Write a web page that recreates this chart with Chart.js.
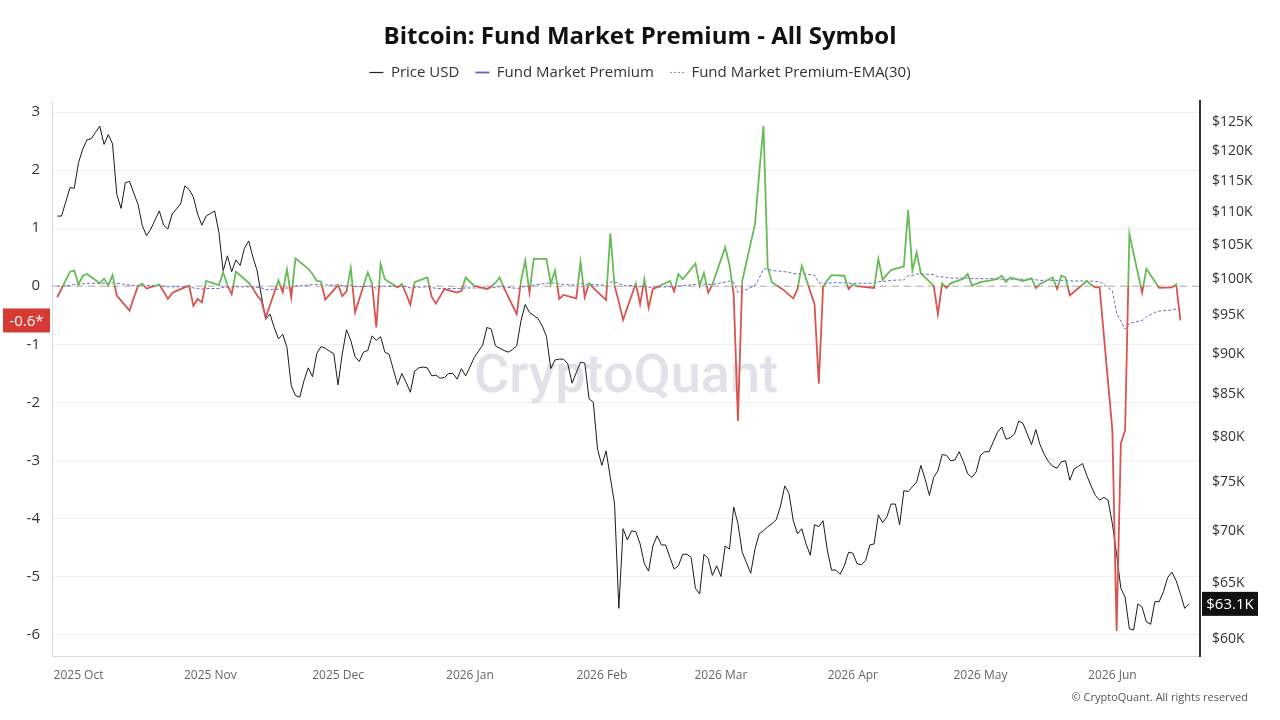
<!DOCTYPE html>
<html>
<head>
<meta charset="utf-8">
<title>Bitcoin: Fund Market Premium - All Symbol</title>
<script src="https://cdn.jsdelivr.net/npm/chart.js@4"></script>
<style>
  html, body { margin: 0; padding: 0; background: #fff; }
  #wrap { width: 1280px; height: 720px; }
</style>
</head>
<body>
<div id="wrap"><canvas id="chart" width="1280" height="720"></canvas></div>
<script>
// x axis is counted in days from 2025-10-01
const seriesStart = '2025-09-26';
const monthLabels = ['2025 Oct', '2025 Nov', '2025 Dec', '2026 Jan', '2026 Feb', '2026 Mar', '2026 Apr', '2026 May', '2026 Jun'];
const premiumTicks = [-6, -5, -4, -3, -2, -1, 0, 1, 2, 3];
const priceTicks = [60, 65, 70, 75, 80, 85, 90, 95, 100, 105, 110, 115, 120, 125];

// daily BTC price, $K (Sep 26 -> Jun 18)
const priceUsd = [
  109.4, 109.4, 111.6, 113.9, 113.8, 118.0, 120.3, 121.9, 122.1, 123.2,
  124.3, 121.1, 122.8, 121.2, 112.8, 110.6, 114.7, 114.9, 113.0, 111.2,
  107.9, 106.4, 107.4, 108.8, 110.2, 108.0, 107.4, 109.7, 110.5, 111.3,
  114.2, 113.6, 112.4, 109.7, 108.0, 109.4, 109.8, 110.2, 106.9, 101.2,
  103.4, 101.1, 102.8, 102.0, 104.5, 105.6, 103.2, 101.2, 97.6, 94.5,
  95.2, 93.4, 91.9, 92.5, 90.8, 86.0, 84.8, 84.6, 86.6, 88.2,
  87.1, 90.0, 90.9, 90.7, 90.3, 90.0, 86.1, 90.0, 93.1, 91.7,
  89.6, 89.0, 90.2, 90.4, 92.3, 91.7, 92.2, 90.2, 89.9, 88.0,
  86.1, 87.5, 86.4, 85.2, 87.8, 88.2, 88.3, 88.2, 87.2, 87.3,
  86.9, 87.0, 87.5, 87.5, 86.8, 88.1, 87.2, 88.3, 89.5, 90.3,
  91.1, 93.4, 93.2, 91.0, 90.7, 90.4, 90.2, 90.5, 91.0, 94.3,
  96.5, 95.4, 95.0, 94.6, 93.6, 92.2, 88.1, 89.2, 89.3, 89.3,
  88.7, 86.3, 87.6, 88.9, 88.8, 84.4, 84.0, 78.6, 76.8, 78.4,
  75.5, 72.7, 62.7, 70.2, 69.1, 70.0, 69.9, 68.7, 66.8, 66.1,
  68.5, 69.5, 68.6, 68.6, 67.4, 66.3, 66.6, 67.7, 67.7, 67.4,
  64.5, 64.0, 67.7, 67.3, 65.7, 66.6, 65.6, 68.5, 68.2, 72.4,
  70.7, 67.9, 66.9, 65.9, 68.2, 69.7, 70.0, 70.4, 70.7, 71.1,
  72.5, 74.6, 73.8, 71.0, 69.7, 70.2, 68.7, 67.6, 70.6, 70.4,
  71.0, 68.1, 66.2, 66.2, 65.8, 66.6, 67.9, 67.8, 66.8, 66.7,
  67.1, 68.6, 68.7, 71.6, 70.8, 71.4, 72.7, 72.7, 70.6, 74.1,
  74.0, 74.5, 75.0, 76.8, 75.3, 73.6, 75.5, 76.2, 78.0, 77.9,
  77.3, 77.4, 78.3, 77.2, 75.9, 75.5, 76.1, 77.9, 78.3, 78.3,
  79.4, 80.5, 81.1, 79.7, 79.9, 80.3, 81.8, 81.5, 80.3, 79.1,
  80.8, 79.1, 78.0, 77.2, 76.7, 76.5, 77.2, 77.3, 75.2, 76.4,
  76.7, 77.0, 75.7, 74.6, 73.6, 73.1, 73.4, 73.1, 70.7, 67.7,
  64.5, 63.7, 60.9, 60.8, 63.1, 62.8, 61.5, 61.3, 63.3, 63.3,
  64.2, 65.5, 66.0, 65.2, 64.0, 62.7, 63.1
];

// fund market premium, one value per weekday starting Fri Sep 26 (rows = Mon..Fri), null = market closed
const premium = [
  -0.19,
  0.25, 0.27, 0.03, 0.18, 0.21,
  0.05, 0.13, 0.01, 0.19, -0.16,
  -0.42, -0.20, 0.01, 0.04, -0.04,
  0.03, -0.09, -0.22, -0.12, -0.08,
  0.01, -0.34, -0.22, -0.28, 0.09,
  0.02, 0.24, 0.02, -0.14, 0.25,
  0.06, -0.04, -0.16, -0.25, -0.54,
  0.10, -0.10, 0.29, -0.19, 0.48,
  0.30, 0.21, 0.09, 0.08, -0.23,
  0.02, -0.17, -0.09, 0.31, -0.45,
  0.24, 0.04, -0.71, 0.38, 0.12,
  -0.02, 0.04, -0.13, -0.32, 0.07,
  0.15, -0.18, -0.30, null, -0.05,
  -0.11, -0.08, 0.15, null, 0.01,
  -0.05, -0.01, 0.06, 0.15, -0.03,
  -0.48, 0.09, 0.44, -0.11, 0.47,
  0.47, 0.04, 0.27, -0.22, -0.15,
  -0.21, 0.42, -0.19, 0.05, -0.03,
  -0.24, 0.91, 0.01, -0.27, -0.58,
  0.05, -0.31, 0.12, -0.37, -0.05,
  null, 0.09, -0.09, 0.21, 0.12,
  0.39, 0.01, 0.23, -0.11, 0.03,
  0.67, 0.37, -0.15, -2.32, 0.09,
  1.07, 1.95, 2.76, 0.32, 0.07,
  -0.08, -0.15, -0.21, -0.05, 0.35,
  -0.31, -1.68, -0.02, 0.10, 0.19,
  0.18, -0.05, 0.03, 0.00, null,
  -0.03, 0.47, 0.11, 0.20, 0.28,
  0.34, 1.31, 0.27, 0.58, 0.22,
  0.01, -0.48, 0.05, -0.03, 0.05,
  0.13, 0.21, 0.01, 0.04, 0.07,
  0.11, 0.13, 0.18, 0.07, 0.15,
  0.09, 0.11, 0.14, -0.03, 0.04,
  0.15, -0.05, 0.18, 0.15, -0.16,
  null, 0.09, 0.03, -0.02, -0.02,
  -2.48, -5.94, -2.71, -2.48, 0.90,
  -0.11, 0.30, 0.19, 0.08, -0.03,
  -0.02, 0.03, -0.59
];

const premiumEma = [
  0.00,
  0.01, 0.03, 0.03, 0.04, 0.05,
  0.05, 0.05, 0.05, 0.06, 0.05,
  0.02, 0.01, 0.01, 0.01, 0.01,
  0.01, 0.00, -0.01, -0.01, -0.01,
  -0.01, -0.03, -0.04, -0.05, -0.04,
  -0.04, -0.02, -0.02, -0.03, -0.01,
  -0.01, -0.01, -0.02, -0.03, -0.06,
  -0.05, -0.05, -0.03, -0.04, 0.00,
  0.02, 0.03, 0.03, 0.03, 0.02,
  0.02, 0.01, 0.00, 0.02, -0.01,
  0.00, 0.00, -0.04, -0.01, 0.00,
  0.00, 0.00, -0.01, -0.03, -0.02,
  -0.01, -0.02, -0.04, null, -0.04,
  -0.04, -0.04, -0.03, null, -0.03,
  -0.03, -0.03, -0.02, -0.01, -0.01,
  -0.04, -0.03, 0.00, -0.01, 0.02,
  0.05, 0.05, 0.06, 0.04, 0.03,
  0.02, 0.05, 0.03, 0.03, 0.03,
  0.01, 0.07, 0.07, 0.05, 0.01,
  0.01, -0.01, 0.00, -0.02, -0.02,
  null, -0.01, -0.02, 0.00, 0.01,
  0.03, 0.03, 0.04, 0.03, 0.03,
  0.07, 0.09, 0.07, -0.11, -0.09,
  0.01, 0.14, 0.30, 0.29, 0.27,
  0.25, 0.24, 0.22, 0.21, 0.22,
  0.19, 0.06, 0.05, 0.05, 0.06,
  0.06, 0.05, 0.05, 0.05, null,
  0.05, 0.08, 0.08, 0.09, 0.10,
  0.11, 0.18, 0.18, 0.21, 0.21,
  0.20, 0.16, 0.16, 0.15, 0.14,
  0.14, 0.14, 0.13, 0.13, 0.13,
  0.13, 0.12, 0.12, 0.12, 0.12,
  0.12, 0.12, 0.12, 0.11, 0.10,
  0.10, 0.10, 0.10, 0.10, 0.09,
  null, 0.09, 0.09, 0.08, 0.08,
  -0.08, -0.47, -0.60, -0.74, -0.64,
  -0.59, -0.53, -0.49, -0.45, -0.43,
  -0.41, -0.39, -0.40
];

const DAY = 86400000;
const origin = Date.UTC(2025, 9, 1);
const firstDay = (Date.parse(seriesStart + 'T00:00:00Z') - origin) / DAY;

const pricePoints = priceUsd.map((v, i) => ({ x: firstDay + i, y: v }));

// weekdays only for the fund data
const tradingDays = [];
for (let d = firstDay; tradingDays.length < premium.length; d++) {
    const wd = new Date(origin + d * DAY).getUTCDay();
    if (wd !== 0 && wd !== 6) tradingDays.push(d);
}
const premiumPoints = premium.map((v, i) => ({ x: tradingDays[i], y: v }));
const emaPoints = premiumEma.map((v, i) => ({ x: tradingDays[i], y: v }));

const monthStarts = monthLabels.map((_, i) => (Date.UTC(2025, 9 + i, 1) - origin) / DAY);

const GREEN = '#66bb55';
const RED = '#d9534f';

// green above zero, red below
function premiumStroke(ctx) {
    const chart = ctx.chart;
    const area = chart.chartArea;
    if (!area) return RED;
    const y0 = chart.scales.y.getPixelForValue(0);
    let stop = (y0 - area.top) / (area.bottom - area.top);
    stop = Math.min(Math.max(stop, 0), 1);
    const g = chart.ctx.createLinearGradient(0, area.top, 0, area.bottom);
    g.addColorStop(0, GREEN);
    g.addColorStop(stop, GREEN);
    g.addColorStop(stop, RED);
    g.addColorStop(1, RED);
    return g;
}

// legend swatches, by dataset index
const legendStyles = [
    { color: '#222', width: 1.2, dash: [] },
    { color: '#6262d6', width: 1.8, dash: [] },
    { color: '#8d87d8', width: 1, dash: [2, 2] }
];

const extras = {
    id: 'extras',
    beforeInit(chart) {
        // a bit more room under the legend
        const fit = chart.legend.fit;
        chart.legend.fit = function () {
            fit.call(this);
            this.height += 11;
        };
    },
    beforeDatasetsDraw(chart) {
        const { ctx, chartArea: a, scales } = chart;
        ctx.save();
        ctx.font = '500 54px Roboto';
        ctx.fillStyle = 'rgba(205, 205, 220, 0.6)';
        ctx.textAlign = 'center';
        ctx.textBaseline = 'middle';
        ctx.fillText('CryptoQuant', (a.left + a.right) / 2, (a.top + a.bottom) / 2);

        const y0 = scales.y.getPixelForValue(0);
        ctx.strokeStyle = '#c6c6c6';
        ctx.lineWidth = 1.5;
        ctx.setLineDash([7, 5]);
        ctx.beginPath();
        ctx.moveTo(a.left, y0);
        ctx.lineTo(a.right, y0);
        ctx.stroke();
        ctx.restore();
    },
    afterDraw(chart) {
        const { ctx, scales } = chart;
        const lastPremium = premium.filter(v => v !== null).at(-1);
        const lastPrice = priceUsd.at(-1);
        ctx.save();
        ctx.font = '15px "Open Sans"';
        ctx.textAlign = 'center';
        ctx.textBaseline = 'middle';

        const yL = scales.y.getPixelForValue(lastPremium);
        ctx.fillStyle = '#d63a35';
        ctx.fillRect(3, yL - 12, 47, 24);
        ctx.fillStyle = '#fff';
        ctx.fillText(lastPremium.toFixed(1) + '*', 26.5, yL + 1);

        const yR = scales.y1.getPixelForValue(lastPrice);
        ctx.fillStyle = '#111';
        ctx.fillRect(1202, yR - 12, 56, 24);
        ctx.fillStyle = '#fff';
        ctx.fillText('$' + lastPrice.toFixed(1) + 'K', 1230, yR + 1);

        ctx.font = '11px "Open Sans"';
        ctx.fillStyle = '#555';
        ctx.textAlign = 'right';
        ctx.fillText('\u00A9 CryptoQuant. All rights reserved', 1248, 698);
        ctx.restore();
    }
};

Chart.defaults.font.family = "'Open Sans', sans-serif";

new Chart(document.getElementById('chart'), {
    type: 'line',
    data: {
        datasets: [{
            label: 'Price USD',
            data: pricePoints,
            yAxisID: 'y1',
            borderColor: '#1a1a1a',
            borderWidth: 1,
            pointRadius: 0,
            order: 3
        }, {
            label: 'Fund Market Premium',
            data: premiumPoints,
            yAxisID: 'y',
            borderColor: premiumStroke,
            borderWidth: 1.8,
            pointRadius: 0,
            spanGaps: true,
            order: 1
        }, {
            label: 'Fund Market Premium-EMA(30)',
            data: emaPoints,
            yAxisID: 'y',
            borderColor: '#6a66d2',
            borderWidth: 1,
            borderDash: [3, 2],
            pointRadius: 0,
            spanGaps: true,
            order: 2
        }]
    },
    options: {
        responsive: false,
        animation: false,
        events: [],
        layout: { padding: 0 },
        plugins: {
            title: {
                display: true,
                text: 'Bitcoin: Fund Market Premium - All Symbol',
                color: '#111',
                font: { size: 24, weight: 'bold', lineHeight: 1 },
                padding: { top: 25, bottom: 0 }
            },
            legend: {
                labels: {
                    usePointStyle: true,
                    pointStyle: 'line',
                    pointStyleWidth: 14,
                    padding: 16,
                    color: '#333',
                    font: { size: 15 },
                    sort: (a, b) => a.datasetIndex - b.datasetIndex,
                    generateLabels(chart) {
                        const items = Chart.defaults.plugins.legend.labels.generateLabels(chart);
                        items.forEach(it => {
                            const s = legendStyles[it.datasetIndex];
                            it.strokeStyle = s.color;
                            it.fillStyle = s.color;
                            it.lineWidth = s.width;
                            it.lineDash = s.dash;
                            it.pointStyle = 'line';
                        });
                        return items;
                    }
                }
            },
            tooltip: { enabled: false }
        },
        scales: {
            x: {
                type: 'linear',
                min: -6.23,
                max: 263.6,
                grid: { display: false },
                border: { color: '#d9d9d9' },
                ticks: {
                    autoSkip: false,
                    maxRotation: 0,
                    color: '#666',
                    font: { size: 12 },
                    padding: 4,
                    callback: (v, i) => monthLabels[i]
                },
                afterBuildTicks: s => { s.ticks = monthStarts.map(v => ({ value: v })); },
                afterFit: s => { s.height = 64; }
            },
            y: {
                position: 'left',
                min: -6.37,
                max: 3.19,
                grid: { color: '#efefef', drawTicks: false },
                border: { color: '#d9d9d9' },
                ticks: { color: '#333', font: { size: 15 }, padding: 12 },
                afterBuildTicks: s => { s.ticks = premiumTicks.map(v => ({ value: v })); },
                afterFit: s => { s.width = 52; }
            },
            y1: {
                type: 'logarithmic',
                position: 'right',
                min: 58.6,
                max: 128.8,
                grid: { display: false, drawTicks: false },
                border: { color: '#333', width: 2 },
                ticks: { color: '#333', font: { size: 14 }, padding: 12, callback: v => '$' + v + 'K' },
                afterBuildTicks: s => { s.ticks = priceTicks.map(v => ({ value: v })); },
                afterFit: s => { s.width = 80; }
            }
        }
    },
    plugins: [extras]
});
</script>
</body>
</html>
